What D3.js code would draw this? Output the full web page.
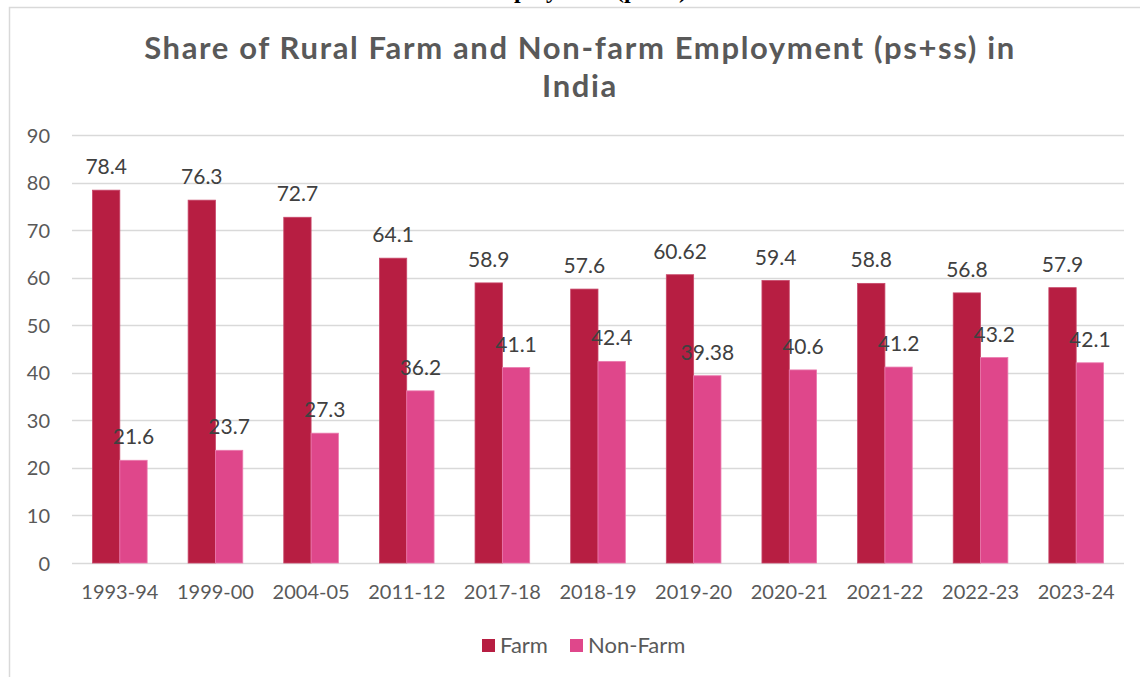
<!DOCTYPE html>
<html>
<head>
<meta charset="utf-8">
<script src="https://cdn.jsdelivr.net/npm/d3@7"></script>
<style>
  html, body { margin: 0; padding: 0; background: #fff; }
  svg { display: block; }
  text { font-family: Lato, "Open Sans", sans-serif; }
</style>
</head>
<body>
<svg id="chart" width="1140" height="677"></svg>
<script>
const categories = ["1993-94","1999-00","2004-05","2011-12","2017-18","2018-19","2019-20","2020-21","2021-22","2022-23","2023-24"];
const farm = [78.4, 76.3, 72.7, 64.1, 58.9, 57.6, 60.62, 59.4, 58.8, 56.8, 57.9];
const nonFarm = [21.6, 23.7, 27.3, 36.2, 41.1, 42.4, 39.38, 40.6, 41.2, 43.2, 42.1];
const farmLabels = ["78.4","76.3","72.7","64.1","58.9","57.6","60.62","59.4","58.8","56.8","57.9"];
const nonFarmLabels = ["21.6","23.7","27.3","36.2","41.1","42.4","39.38","40.6","41.2","43.2","42.1"];
const seriesNames = ["Farm", "Non-Farm"];
const yTicks = [0,10,20,30,40,50,60,70,80,90];
const titleLines = ["Share of Rural Farm and Non-farm Employment (ps+ss) in", "India"];

const colors = ["#B71E42", "#DF478B"];
const textColor = "#595959";
const gridColor = "#D9D9D9";

const svg = d3.select("#chart");

// cut-off caption above chart (only its descenders are visible in the source)
svg.append("text")
  .attr("x", 687).attr("y", -2)
  .attr("text-anchor", "end")
  .style("font-family", "'Liberation Serif', 'Times New Roman', serif")
  .style("font-weight", "bold")
  .style("font-size", "24px")
  .attr("fill", "#000")
  .text("Rural Farm and Non-farm Employment (ps+ss)");

// chart border
svg.append("rect")
  .attr("x", 9.5).attr("y", 7.5)
  .attr("width", 1160).attr("height", 700)
  .attr("fill", "#fff")
  .attr("stroke", gridColor).attr("stroke-width", 1.5);

const pLeft = 72, pRight = 1124, pTop = 135, pBottom = 563;

const x = d3.scaleBand().domain(categories).range([pLeft, pRight])
  .paddingInner(3/7).paddingOuter(1.5/7);
const xs = d3.scaleBand().domain(seriesNames).range([0, x.bandwidth()]);
const y = d3.scaleLinear().domain([0, 90]).range([pBottom, pTop]);

// title
const titles = svg.append("g").selectAll("text").data(titleLines).join("text")
  .attr("x", 580).attr("y", (d, i) => 59 + i * 38)
  .attr("text-anchor", "middle")
  .attr("fill", textColor)
  .style("font-size", "31px").style("font-weight", "bold")
  .text(d => d);
// widen the title to the source's width via letter spacing
{
  const n0 = titles.nodes()[0];
  const w = n0.getComputedTextLength();
  const target = 870;
  const ls = (target - w) / (titleLines[0].length - 1);
  titles.style("letter-spacing", ls + "px");
}

// gridlines
svg.append("g").selectAll("line").data(yTicks).join("line")
  .attr("x1", pLeft).attr("x2", pRight)
  .attr("y1", d => Math.round(y(d)) + 0.5).attr("y2", d => Math.round(y(d)) + 0.5)
  .attr("stroke", gridColor).attr("stroke-width", 1.5);

// y axis labels
const yAxis = d3.axisLeft(y).tickValues(yTicks).tickSize(0).tickPadding(0);
const yg = svg.append("g").attr("transform", `translate(${pLeft - 22},0)`).call(yAxis);
yg.select(".domain").remove();
yg.selectAll("text").attr("fill", textColor).style("font-size", "20px")
  .style("font-family", "Lato, sans-serif").attr("dy", "0.35em");

// x axis labels
const xAxis = d3.axisBottom(x).tickSize(0).tickPadding(0);
const xg = svg.append("g").attr("transform", `translate(0,${pBottom + 22})`).call(xAxis);
xg.select(".domain").remove();
xg.selectAll("text").attr("fill", textColor).style("font-size", "20px")
  .style("font-family", "Lato, sans-serif").attr("dy", "0.7em");

const data = categories.map((c, i) => ({
  cat: c,
  vals: [
    {s: seriesNames[0], v: farm[i], l: farmLabels[i]},
    {s: seriesNames[1], v: nonFarm[i], l: nonFarmLabels[i]}
  ]
}));

const groups = svg.append("g").selectAll("g").data(data).join("g")
  .attr("transform", d => `translate(${x(d.cat)},0)`);

groups.selectAll("rect").data(d => d.vals).join("rect")
  .attr("x", d => xs(d.s))
  .attr("y", d => y(d.v))
  .attr("width", xs.bandwidth())
  .attr("height", d => y(0) - y(d.v))
  .attr("fill", (d, i) => colors[i])
  .attr("stroke", (d, i) => i === 0 ? "#C8486A" : "#EA7AAE")
  .attr("stroke-width", 0.8);

groups.selectAll("text.lbl").data(d => d.vals).join("text")
  .attr("class", "lbl")
  .attr("x", d => xs(d.s) + xs.bandwidth() / 2)
  .attr("y", d => y(d.v) - 16)
  .attr("text-anchor", "middle")
  .attr("fill", "#404040")
  .style("font-size", "21px")
  .text(d => d.l);

// legend
const legend = svg.append("g");
const legendItems = [{name: seriesNames[0], x: 482}, {name: seriesNames[1], x: 570}];
legendItems.forEach((it, i) => {
  legend.append("rect").attr("x", it.x).attr("y", 639).attr("width", 13).attr("height", 13)
    .attr("fill", colors[i]);
  legend.append("text").attr("x", it.x + 18).attr("y", 653)
    .attr("fill", textColor).style("font-size", "22px").text(it.name);
});
</script>
</body>
</html>
